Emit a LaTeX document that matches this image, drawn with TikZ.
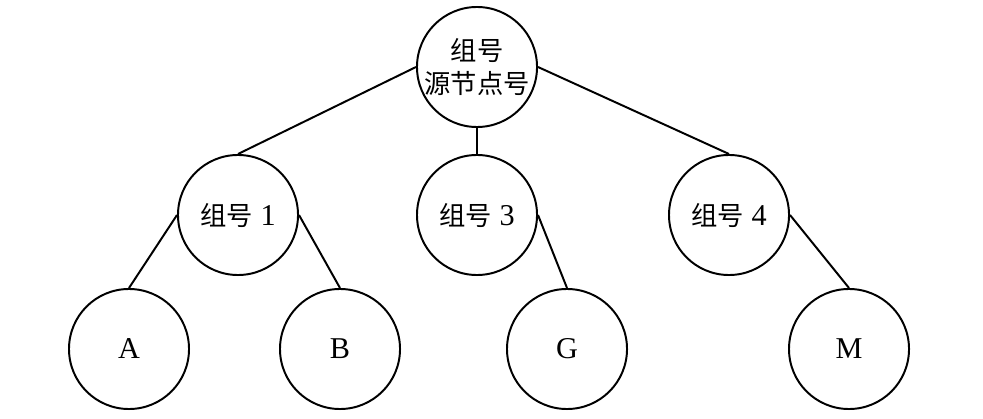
\documentclass[tikz,border=0pt]{standalone}
\usepackage{fontspec}
\setmainfont{Liberation Serif}
\newfontfamily\cjk[Scale=0.87]{Noto Sans CJK SC}
\usepackage{tikz}
\usetikzlibrary{positioning}

\begin{document}
\begin{tikzpicture}[x=0.025cm, y=-0.025cm,
    grp/.style={circle, draw, line width=1.4pt, minimum size=3cm, inner sep=0pt, align=center, font=\fontsize{21.5}{22.9}\selectfont},
    link/.style={line width=1.4pt}]
    \useasboundingbox (0,0) rectangle (983,419);
    \node[grp] (root) at (477,67) {{\cjk 组号}\\{\cjk 源节点号}};
    \node[grp] (g1) at (238,215) {{\cjk 组号} 1};
    \node[grp] (g3) at (477,215) {{\cjk 组号} 3};
    \node[grp] (g4) at (729,215) {{\cjk 组号} 4};
    
    \node[grp] (a) at (129,349) {A};
    \node[grp] (b) at (340,349) {B};
    \node[grp] (g) at (567,349) {G};
    \node[grp] (m) at (849,349) {M};
    
    \draw[link] (root.west) -- (g1.north);
    \draw[link] (root.south) -- (g3.north);
    \draw[link] (root.east) -- (g4.north);
    \draw[link] (g1.west) -- (a.north);
    \draw[link] (g1.east) -- (b.north);
    \draw[link] (g3.east) -- (g.north);
    \draw[link] (g4.east) -- (m.north);
\end{tikzpicture}
\end{document}
